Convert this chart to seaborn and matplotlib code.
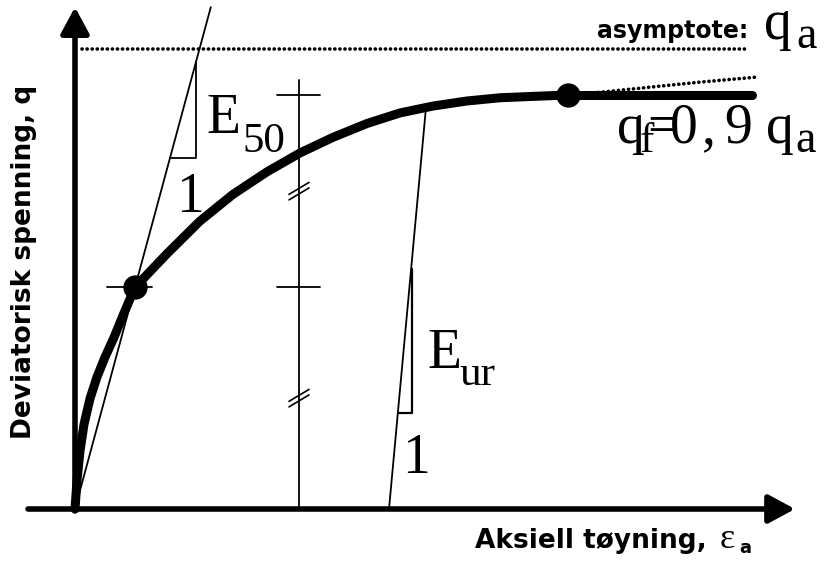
import matplotlib
matplotlib.use("Agg")
import matplotlib.pyplot as plt
import pandas as pd
import seaborn as sns

# Deviator stress q (normalised by the asymptotic value q_a) against axial strain
strain = [0.00, 0.02, 0.05, 0.09, 0.15, 0.22, 0.30, 0.39, 0.49, 0.60, 0.92, 1.25, 1.58,
          1.92, 2.25, 2.58, 2.92, 3.25, 3.58, 3.92, 4.25, 4.58, 4.93]
q = [0.000, 0.062, 0.126, 0.184, 0.240, 0.287, 0.330, 0.373, 0.426, 0.482, 0.555, 0.626,
     0.684, 0.733, 0.774, 0.808, 0.838, 0.861, 0.876, 0.887, 0.894, 0.897, 0.900]

q_a = 1.0
q_f = 0.9 * q_a
strain_f = 4.93          # failure point, where the curve is cut off
strain_end = 6.77        # end of the perfectly plastic branch

# continuation of the hyperbola beyond failure (dotted)
hyp_strain = [5.25, 5.75, 6.25, 6.82]
hyp_q = [0.906, 0.917, 0.928, 0.939]

# secant modulus point at 50 % of failure stress
e50_strain, e50_q = 0.60, 0.482
# unloading / reloading branch
eur_strain = [3.14, 3.51]
eur_q = [0.000, 0.873]
# vertical reference line used to mark the two equal stress intervals
ref_strain = 2.24

SERIF = "Liberation Serif"
SANS = ["DejaVu Sans"]

sns.set_theme(style="white")
plt.rcParams["font.family"] = SANS

fig = plt.figure(figsize=(8.35, 5.66), dpi=100)
ax = fig.add_axes([0, 0, 1, 1])
ax.set_xlim(-0.75, 7.60)
ax.set_ylim(-57 / 460, 509 / 460)
ax.axis("off")

# axes with arrow heads
arrow = dict(arrowstyle="-|>,head_length=0.5,head_width=0.27", lw=4, color="black",
             shrinkA=0, shrinkB=0, mutation_scale=32)
ax.annotate("", xy=(7.20, 0), xytext=(-0.47, 0), arrowprops=arrow)
ax.annotate("", xy=(0, 1.091), xytext=(0, -0.004), arrowprops=arrow)

dotted = dict(color="black", lw=2.6, linestyle=(0, (0.05, 1.35)), dash_capstyle="round")

# asymptote
ax.plot([0.07, 6.70], [q_a, q_a], **dotted)

# hyperbolic curve up to failure, then the perfectly plastic branch
curve = pd.DataFrame({"strain": strain, "q": q})
sns.lineplot(data=curve, x="strain", y="q", ax=ax, color="black", lw=6.5,
             sort=False, solid_capstyle="round", solid_joinstyle="round")
ax.plot([strain_f, strain_end], [q_f, q_f], color="black", lw=6.5, solid_capstyle="round")
ax.plot([strain_f] + hyp_strain, [q_f] + hyp_q, **dotted)

# E50 secant and its slope triangle
E50 = e50_q / e50_strain
top_q = 1.091
ax.plot([0, top_q / E50], [0, top_q], color="black", lw=1.3)
tri_x, tri_q = 1.21, 0.763
ax.plot([tri_q / E50, tri_x, tri_x], [tri_q, tri_q, E50 * tri_x], color="black", lw=1.3)
ax.plot([0.32, 0.77], [e50_q, e50_q], color="black", lw=1.3)

# unloading-reloading line and its slope triangle
Eur = (eur_q[1] - eur_q[0]) / (eur_strain[1] - eur_strain[0])
ax.plot(eur_strain, eur_q, color="black", lw=1.3)
ur_x, ur_q = 3.37, 0.209
ax.plot([eur_strain[0] + ur_q / Eur, ur_x, ur_x],
        [ur_q, ur_q, Eur * (ur_x - eur_strain[0]) - 0.02], color="black", lw=1.6)

# reference line with level ticks and equal-interval marks
ax.plot([ref_strain, ref_strain], [0, 0.933], color="black", lw=1.3)
for level in (q_f, e50_q):
    ax.plot([ref_strain - 0.22, ref_strain + 0.21], [level, level], color="black", lw=1.3)
for mid in ((q_f + e50_q) / 2, e50_q / 2):
    for off in (-0.006, 0.006):
        ax.plot([ref_strain - 0.10, ref_strain + 0.10],
                [mid + off - 0.013, mid + off + 0.013], color="black", lw=1.2)

# marked points
ax.plot([e50_strain, strain_f], [e50_q, q_f], "o", color="black", ms=16.5, mec="black")

# labels of the moduli
big, small = 40, 31
kw = dict(family=SERIF, va="baseline", ha="left", color="black")
ax.text(1.31, 0.817, "E", fontsize=big, **kw)
ax.text(1.67, 0.776, "50", fontsize=small, **kw)
ax.text(1.01, 0.646, "1", fontsize=big, **kw)
ax.text(3.52, 0.307, "E", fontsize=big, **kw)
ax.text(3.84, 0.270, "ur", fontsize=small, **kw)
ax.text(3.27, 0.078, "1", fontsize=big, **kw)

# asymptote and failure stress labels
ax.text(5.22, 1.024, "asymptote:", fontsize=17, fontweight="bold",
        family=SANS, va="baseline", ha="left", color="black")
ax.text(6.89, 1.022, "q", fontsize=big, **kw)
ax.text(7.21, 1.002, "a", fontsize=33, **kw)
ax.text(5.42, 0.796, "q", fontsize=big, **kw)
ax.text(5.65, 0.776, "f", fontsize=small, **kw)
ax.text(5.72, 0.796, "=", fontsize=big, **kw)
ax.text(5.95, 0.796, "0", fontsize=big, **kw)
ax.text(6.27, 0.796, ",", fontsize=big, **kw)
ax.text(6.49, 0.796, "9", fontsize=big, **kw)
ax.text(6.91, 0.796, "q", fontsize=big, **kw)
ax.text(7.20, 0.776, "a", fontsize=33, **kw)

# axis titles
ax.text(-0.51, 0.537, "Deviatorisk spenning, q", rotation=90, fontsize=19,
        fontweight="bold", family=SANS, ha="center", va="center", color="black")
ax.text(4.00, -0.085, "Aksiell tøyning,", fontsize=19, fontweight="bold",
        family=SANS, ha="left", va="baseline", color="black")
ax.text(6.45, -0.085, "ε", fontsize=26, family=SERIF, ha="left", va="baseline",
        color="black")
ax.text(6.64, -0.095, "a", fontsize=13, fontweight="bold", family=SANS,
        ha="left", va="baseline", color="black")

fig.savefig("out.png", dpi=100)
